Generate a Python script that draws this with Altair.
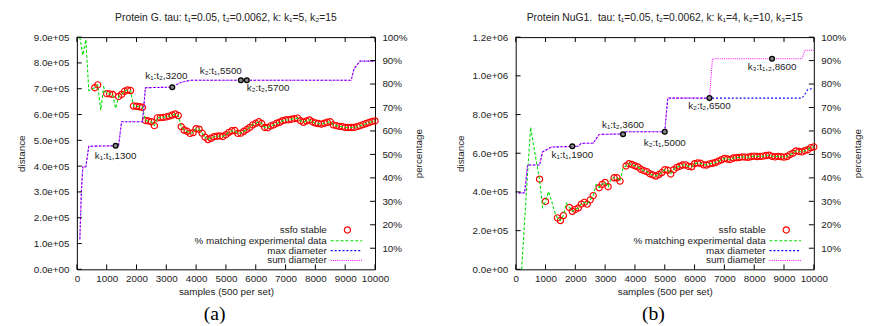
import altair as alt
import pandas as pd

# ---------------- panel (a): Protein G ----------------
A_TITLE = "Protein G. tau: t₁=0.05, t₂=0.0062, k: k₁=5, k₂=15"
# distance (in thousands) of the matching / ssfo series at samples 100..10000
A_MATCH_X = list(range(100, 10001, 100))
A_MATCH = [900, 830, 890, 693, 698, 704, 715, 618, 706, 681,
           680, 678, 624, 670, 678, 690, 695, 693, 633, 632,
           630, 628, 577, 575, 572, 557, 587, 588, 589, 591,
           594, 598, 602, 596, 553, 540, 535, 527, 530, 545,
           543, 528, 512, 503, 508, 514, 516, 517, 515, 522,
           531, 537, 538, 527, 528, 535, 542, 550, 560, 566,
           572, 565, 550, 549, 556, 560, 566, 570, 576, 579,
           580, 582, 584, 586, 576, 570, 575, 579, 572, 567,
           565, 563, 566, 570, 572, 560, 557, 554, 553, 550,
           550, 550, 550, 553, 557, 561, 565, 569, 573, 575]
A_STABLE_X = [600, 700, 1000, 1100, 1200, 1400, 1500, 1600, 1700, 1800] + list(range(1900, 10001, 100))
A_MAX_X = [100, 150, 200, 300, 400, 1300, 1400, 1500, 2200, 2300, 3200, 3300, 3500, 3800, 9200, 9300, 9500, 10000]
A_MAX = [117, 300, 397, 397, 477, 479, 481, 572, 572, 704, 706, 714, 725, 733, 733, 778, 807, 807]
A_SUM_X = [100, 150, 200, 300, 400, 1300, 1400, 1500, 2200, 2300, 3200, 3300, 3500, 3800, 9200, 9300, 9500, 10000]
A_SUM = [117, 300, 397, 397, 477, 479, 481, 572, 572, 704, 706, 714, 725, 733, 733, 778, 807, 807]
A_NOTE_X = [1300, 3200, 5500, 5700]
A_NOTE_Y = [479, 706, 733, 733]
A_NOTE_TXT = ["k₁:t₁,1300", "k₁:t₂,3200", "k₂:t₁,5500", "k₂:t₂,5700"]
A_YMAX = 900000
A_YTICKS = [0, 100000, 200000, 300000, 400000, 500000, 600000, 700000, 800000, 900000]

# ---------------- panel (b): Protein NuG1 ----------------
B_TITLE = "Protein NuG1.\u00a0 tau: t₁=0.05, t₂=0.0062, k: k₁=4, k₂=10, k₃=15"
B_MATCH_X = list(range(200, 10001, 100))
B_MATCH = [0, 250, 500, 734, 640, 550, 466, 320, 351, 402,
           355, 300, 266, 252, 278, 342, 320, 300, 310, 317,
           337, 346, 337, 359, 381, 439, 422, 439, 449, 427,
           470, 473, 473, 456, 524, 534, 546, 542, 535, 529,
           517, 510, 505, 494, 488, 482, 490, 500, 515, 512,
           493, 515, 527, 533, 539, 540, 532, 530, 546, 550,
           548, 540, 539, 545, 548, 552, 559, 566, 573, 570,
           568, 575, 577, 578, 581, 580, 579, 583, 585, 583,
           584, 585, 588, 590, 584, 581, 584, 582, 580, 583,
           593, 600, 612, 609, 607, 613, 618, 629, 633]
B_STABLE_X = ([800, 1000, 1400, 1500, 1600] + list(range(1800, 2601, 100))
              + [2800, 2900, 3000, 3100, 3300, 3400, 3500] + list(range(3700, 10001, 100)))
B_MAX_X = [100, 300, 400, 800, 900, 1200, 2100, 2200, 2600, 2800, 3600, 3700, 5000, 5100, 9600, 9700, 9800, 10000]
B_MAX = [395, 395, 539, 539, 607, 632, 636, 652, 652, 697, 700, 711, 711, 885, 885, 905, 930, 935]
B_SUM_X = [100, 300, 400, 800, 900, 1200, 2100, 2200, 2600, 2800, 3600, 3700, 5000, 5100, 6500, 6600, 9600, 9700, 10000]
B_SUM = [395, 395, 539, 539, 607, 632, 636, 652, 652, 697, 700, 711, 711, 885, 885, 1088, 1088, 1132, 1132]
B_NOTE_X = [1900, 3600, 5000, 6500, 8600]
B_NOTE_Y = [636, 698, 711, 885, 1088]
B_NOTE_TXT = ["k₁:t₁,1900", "k₁:t₂,3600", "k₂:t₁,5000", "k₂:t₂,6500", "k₃:t₁,₂,8600"]
B_YMAX = 1200000
B_YTICKS = [0, 200000, 400000, 600000, 800000, 1000000, 1200000]

X_TICKS = [0, 1000, 2000, 3000, 4000, 5000, 6000, 7000, 8000, 9000, 10000]
PCT_TICKS = [10, 20, 30, 40, 50, 60, 70, 80, 90, 100]
LEGEND = ["ssfo stable", "% matching experimental data", "max diameter", "sum diameter"]

# ---------------- styles ----------------
W, H = 303, 236
FONT = "Liberation Sans"
FS = 10
TXT = "#222222"
RED, GREEN, BLUE, MAGENTA = "#ff0000", "#00dd00", "#0000ff", "#ff00ff"
A_NOTE_STYLE = [("center", 0, 10), ("center", -6, -11), ("right", 1, -9), ("left", 0, 8)]
B_NOTE_STYLE = [("center", 0, 9), ("center", 0, -9), ("center", 0, 11), ("center", 0, 8), ("center", 0, 8)]


def panel(title, mx, mv, stable_x, maxx, maxv, sumx, sumv, nx, ny, ntxt, nstyle, ymax, yticks, sub):
    xs = alt.Scale(domain=[0, 10000], nice=False, zero=False)
    ys = alt.Scale(domain=[0, ymax], nice=False, zero=False)
    yr = alt.Scale(domain=[1, 100], nice=False, zero=False)
    xaxis = alt.Axis(values=X_TICKS, format="d", title="samples (500 per set)", ticks=False,
                     domain=False, grid=False, labelPadding=4, titlePadding=4,
                     labelFlush=False, labelOverlap=False,
                     labelFont=FONT, labelFontSize=FS, labelColor=TXT,
                     titleFont=FONT, titleFontSize=FS, titleFontWeight="normal", titleColor=TXT)
    yaxis = alt.Axis(values=yticks, labelExpr="replace(format(datum.value, '.1e'), 'e+', 'e+0')",
                     title="distance", ticks=False, domain=False, grid=False,
                     labelPadding=8, titlePadding=7, labelFlush=False, labelOverlap=False,
                     labelFont=FONT, labelFontSize=FS, labelColor=TXT,
                     titleFont=FONT, titleFontSize=FS, titleFontWeight="normal", titleColor=TXT)
    raxis = alt.Axis(orient="right", values=PCT_TICKS, labelExpr="datum.value + '%'",
                     title="percentage", ticks=False, domain=False, grid=False,
                     labelPadding=7, titlePadding=7, titleAngle=270, titleBaseline="top",
                     labelFlush=False, labelOverlap=False,
                     labelFont=FONT, labelFontSize=FS, labelColor=TXT,
                     titleFont=FONT, titleFontSize=FS, titleFontWeight="normal", titleColor=TXT)

    def X():
        return alt.X("x:Q", scale=xs, axis=xaxis)

    def Y():
        return alt.Y("d:Q", scale=ys, axis=yaxis)

    match_df = pd.DataFrame({"x": mx, "d": [v * 1000 for v in mv]})
    lookup = dict(zip(mx, mv))
    stable_df = pd.DataFrame({"x": stable_x, "d": [lookup[s] * 1000 for s in stable_x]})
    max_df = pd.DataFrame({"x": maxx, "d": [v * 1000 for v in maxv]})
    sum_df = pd.DataFrame({"x": sumx, "d": [v * 1000 for v in sumv]})
    note_df = pd.DataFrame({"x": nx, "d": [v * 1000 for v in ny], "t": ntxt})

    layers = []
    layers.append(alt.Chart(stable_df).mark_point(shape="circle", filled=False, color=RED, size=40,
                                                  strokeWidth=1.2, opacity=1).encode(x=X(), y=Y()))
    layers.append(alt.Chart(match_df).mark_line(color=GREEN, strokeDash=[3, 2], strokeWidth=1.1,
                                                clip=True).encode(x=X(), y=Y()))
    layers.append(alt.Chart(max_df).mark_line(color=BLUE, strokeDash=[2, 2], strokeWidth=1.1,
                                              clip=True).encode(x=X(), y=Y()))
    layers.append(alt.Chart(sum_df).mark_line(color=MAGENTA, strokeDash=[1, 1.2], strokeWidth=1.1,
                                              clip=True).encode(x=X(), y=Y()))
    layers.append(alt.Chart(note_df).mark_point(shape="circle", filled=True, fill="#8a8a8a", stroke="black",
                                                strokeWidth=1.3, size=24, opacity=1).encode(x=X(), y=Y()))
    for i, (al, dx, dy) in enumerate(nstyle):
        layers.append(alt.Chart(note_df.iloc[[i]]).mark_text(align=al, baseline="middle", dx=dx, dy=dy,
                                                             font=FONT, fontSize=FS, color=TXT)
                      .encode(x=X(), y=Y(), text="t:N"))
    # inward tick marks
    xt = pd.DataFrame({"x": X_TICKS})
    layers.append(alt.Chart(xt).mark_rule(color="black", strokeWidth=1)
                  .encode(x=X(), y=alt.value(H), y2=alt.value(H - 5)))
    layers.append(alt.Chart(xt).mark_rule(color="black", strokeWidth=1)
                  .encode(x=X(), y=alt.value(0), y2=alt.value(5)))
    yt = pd.DataFrame({"d": yticks})
    layers.append(alt.Chart(yt).mark_rule(color="black", strokeWidth=1)
                  .encode(y=Y(), x=alt.value(0), x2=alt.value(5)))
    # legend (inside, bottom right)
    rows = [H - 40, H - 29, H - 19, H - 9]
    for lab, ry in zip(LEGEND, rows):
        layers.append(alt.Chart(pd.DataFrame({"t": [lab]})).mark_text(
            align="right", baseline="middle", font=FONT, fontSize=FS, color=TXT)
            .encode(x=alt.value(254), y=alt.value(ry), text="t:N"))
    one = pd.DataFrame({"k": [0]})
    layers.append(alt.Chart(one).mark_point(shape="circle", filled=False, color=RED, size=40,
                                            strokeWidth=1.2, opacity=1)
                  .encode(x=alt.value(275), y=alt.value(rows[0])))
    for col, dash, ry in [(GREEN, [3, 2], rows[1]), (BLUE, [2, 2], rows[2]), (MAGENTA, [1, 1.2], rows[3])]:
        layers.append(alt.Chart(one).mark_rule(color=col, strokeDash=dash, strokeWidth=1.1)
                      .encode(x=alt.value(258), x2=alt.value(290), y=alt.value(ry)))
    # sub-figure label
    layers.append(alt.Chart(pd.DataFrame({"t": [sub]})).mark_text(
        align="center", baseline="middle", font="Liberation Serif", fontSize=20, color="black")
        .encode(x=alt.value(140), y=alt.value(H + 45), text="t:N"))

    left = alt.layer(*layers)
    right = alt.Chart(pd.DataFrame({"p": PCT_TICKS})).mark_rule(color="black", strokeWidth=1).encode(
        y=alt.Y("p:Q", scale=yr, axis=raxis), x=alt.value(W - 5), x2=alt.value(W))
    return alt.layer(left, right).resolve_scale(y="independent").properties(
        width=W, height=H,
        title=alt.TitleParams(title, font=FONT, fontSize=10.5, fontWeight="normal", color=TXT,
                              anchor="middle", offset=9))


pa = panel(A_TITLE, A_MATCH_X, A_MATCH, A_STABLE_X, A_MAX_X, A_MAX, A_SUM_X, A_SUM,
           A_NOTE_X, A_NOTE_Y, A_NOTE_TXT, A_NOTE_STYLE, A_YMAX, A_YTICKS, "(a)")
pb = panel(B_TITLE, B_MATCH_X, B_MATCH, B_STABLE_X, B_MAX_X, B_MAX, B_SUM_X, B_SUM,
           B_NOTE_X, B_NOTE_Y, B_NOTE_TXT, B_NOTE_STYLE, B_YMAX, B_YTICKS, "(b)")

chart = alt.hconcat(pa, pb, spacing=30).configure_view(stroke="black", strokeWidth=1).properties(
    padding={"left": 8, "top": 2, "right": 0, "bottom": 0},
    background="white")

chart.save("out.html", embed_options={"renderer": "svg", "actions": False})
